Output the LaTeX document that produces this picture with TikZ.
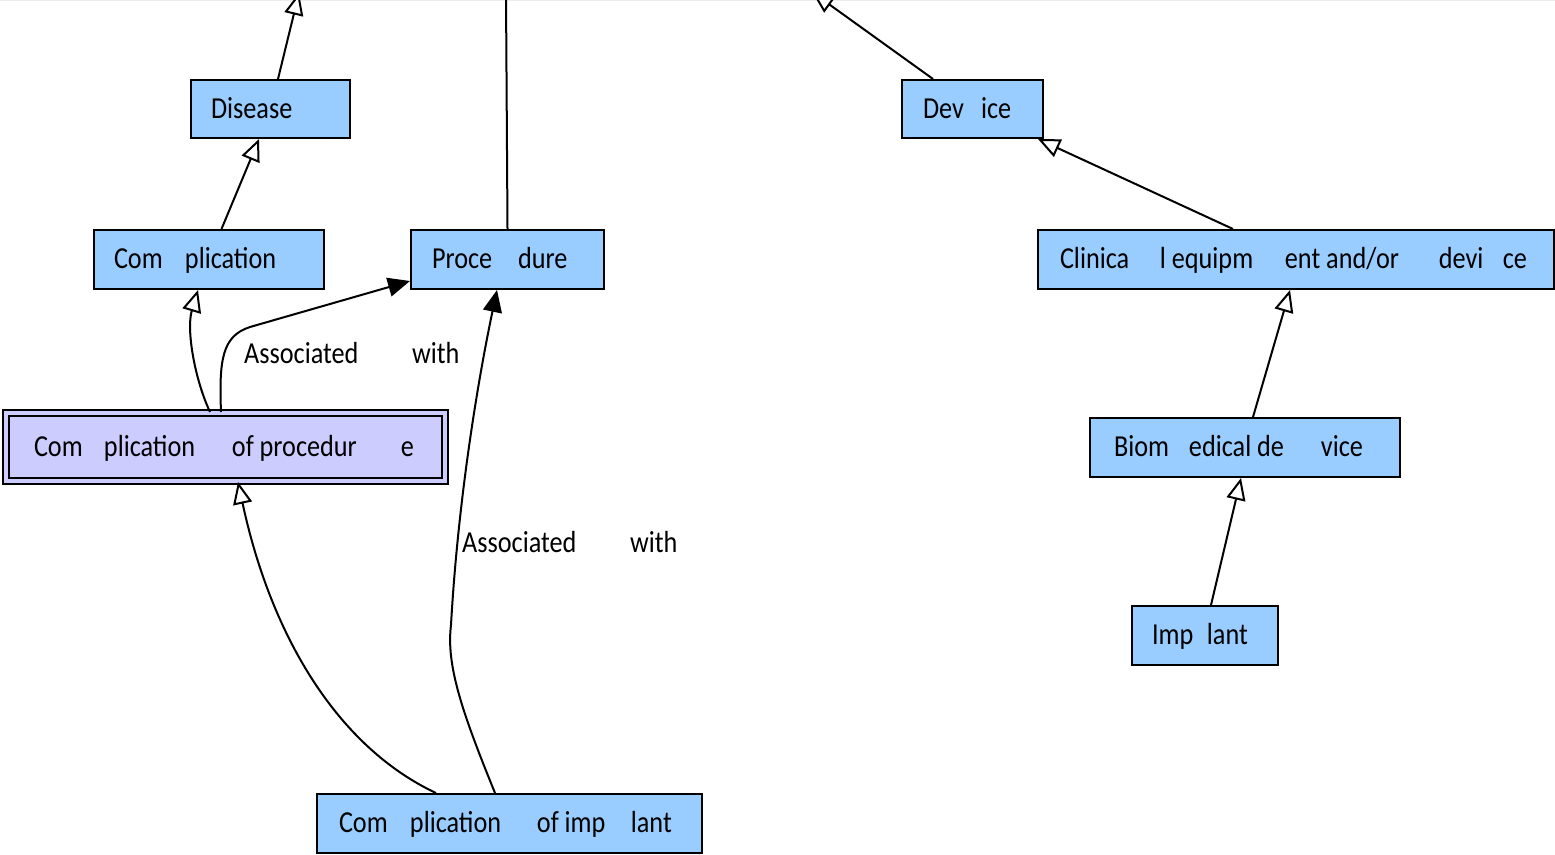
\documentclass[tikz,border=0pt]{standalone}
\usepackage{fontspec}
\setmainfont{Carlito}[FakeStretch=0.86]
\usetikzlibrary{arrows.meta}
\definecolor{boxblue}{RGB}{153,204,255}
\definecolor{lavender}{RGB}{204,204,255}
\newcommand\sg[2]{\makebox[#1pt][l]{#2}}
\newcommand\lbl[3]{\makebox[#1pt][l]{\hspace{#2pt}#3}}
\tikzset{
  box/.style={draw=black, line width=2pt, fill=boxblue, inner sep=0pt, anchor=north west,
    text height=20pt, text depth=2pt, font=\fontsize{30.5}{36}\selectfont},
  dbox/.style={box, fill=lavender, line width=2pt, double=lavender, double distance=4pt},
  edgelabel/.style={inner sep=0pt, anchor=base west, font=\fontsize{30.5}{36}\selectfont},
  isa/.style={line width=2pt, -{Triangle[open, length=22pt, width=19pt, fill=white]}},
  assoc/.style={line width=2pt, -{Triangle[length=22pt, width=19pt]}},
  plain/.style={line width=2pt}
}
\begin{document}
\begin{tikzpicture}[x=1pt, y=-1pt]
\clip (0,0) rectangle (1555,854);
\fill[white] (0,0) rectangle (1555,854);
\draw[gray!15, line width=1pt] (0,0.5) -- (1555,0.5);
% nodes
\node[box, minimum width=159pt, minimum height=58pt] (disease) at (190,79) {\lbl{159}{20}{Disease}};
\node[box, minimum width=230pt, minimum height=59pt] (complication) at (93,229) {\lbl{230}{20}{\sg{71}{Com}plication}};
\node[box, minimum width=193pt, minimum height=59pt] (procedure) at (410,229) {\lbl{193}{21}{\sg{86}{Proce}dure}};
\node[dbox, minimum width=439pt, minimum height=68pt] (cop) at (5,412) {\lbl{439}{28}{\sg{70}{Com}\sg{128}{plication}\sg{169}{of procedur}e}};
\node[box, minimum width=385pt, minimum height=59pt] (coi) at (316,793) {\lbl{385}{22}{\sg{71}{Com}\sg{127}{plication}\sg{94}{of imp}lant}};
\node[box, minimum width=141pt, minimum height=58pt] (device) at (901,79) {\lbl{141}{21}{\sg{58}{Dev}ice}};
\node[box, minimum width=516pt, minimum height=59pt] (clinical) at (1037,229) {\lbl{516}{22}{\sg{100}{Clinica}\sg{125}{l equipm}\sg{154}{ent and/or}\sg{64}{devi}ce}};
\node[box, minimum width=310pt, minimum height=59pt] (biomed) at (1089,417) {\lbl{310}{24}{\sg{75}{Biom}\sg{132}{edical de}vice}};
\node[box, minimum width=146pt, minimum height=59pt] (implant) at (1131,605) {\lbl{146}{20}{\sg{55}{Imp}lant}};
% off-picture ends
\coordinate (up1) at (299,-7);
\coordinate (up2) at (506,-5);
\coordinate (up3) at (812,-8);
% edges
\draw[isa] ([xshift=7.5pt]disease.north) -- (up1);
\draw[plain] (procedure.north) -- (up2);
\draw[isa] ([xshift=-39.5pt]device.north) -- (up3);
\draw[isa] ([xshift=12.5pt]complication.north) -- ([xshift=-11.5pt]disease.south);
\draw[isa] ([xshift=-15.5pt]cop.north) .. controls (195,380) and (186,330) .. ([xshift=-11pt]complication.south);
\draw[assoc] ([xshift=-4.5pt]cop.north) .. controls (219,360) and (222,336) .. (250,327) -- ([yshift=-21.5pt]procedure.west);
\draw[isa] ([xshift=-73.5pt]coi.north) .. controls (340,748) and (272,640) .. ([xshift=12.5pt]cop.south);
\draw[assoc] ([xshift=-14.5pt]coi.north) .. controls (462,712) and (446,665) .. (451,625) .. controls (458,500) and (478,380) .. ([xshift=-10.5pt]procedure.south);
\draw[isa] ([xshift=-63pt]clinical.north) -- ([xshift=-6pt]device.south east);
\draw[isa] ([xshift=8pt]biomed.north) -- ([xshift=-6pt]clinical.south);
\draw[isa] ([xshift=6pt]implant.north) -- ([xshift=-4pt]biomed.south);
% labels
\node[edgelabel] (lab1) at (244,363) {\sg{168}{Associated}with};
\node[edgelabel] (lab2) at (462,552) {\sg{168}{Associated}with};
\end{tikzpicture}
\end{document}
